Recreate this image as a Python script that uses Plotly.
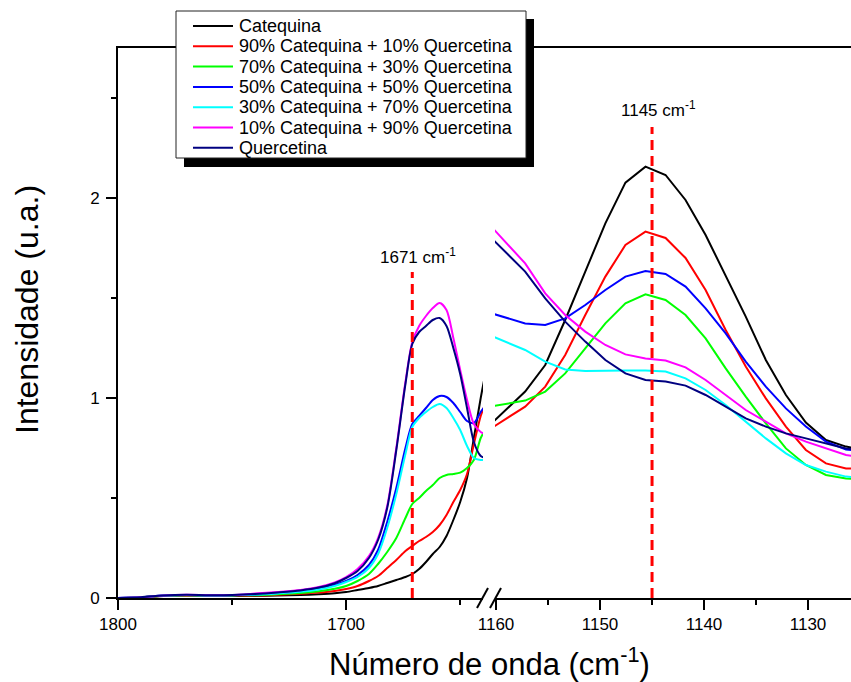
import plotly.graph_objects as go

# ---------------- data ----------------
series_names = [
    "Catequina",
    "90% Catequina + 10% Quercetina",
    "70% Catequina + 30% Quercetina",
    "50% Catequina + 50% Quercetina",
    "30% Catequina + 70% Quercetina",
    "10% Catequina + 90% Quercetina",
    "Quercetina",
]
series_colors = ["#000000", "#FF0000", "#00FF00", "#0000FF", "#00FFFF", "#FF00FF", "#000080"]

# left panel (1800 - 1640 cm-1)
wn_left = [1800, 1790, 1780, 1770, 1760, 1750, 1740, 1730, 1720, 1712, 1705, 1700, 1695, 1690,
           1686, 1682, 1678, 1674, 1671, 1668, 1665, 1662, 1659, 1656, 1653, 1650, 1647, 1644,
           1641, 1639]
left_cat = [0, 0.003, 0.010, 0.012, 0.010, 0.010, 0.010, 0.012, 0.015, 0.019, 0.024, 0.030, 0.040, 0.050,
            0.060, 0.075, 0.090, 0.105, 0.120, 0.145, 0.180, 0.220, 0.255, 0.310, 0.390, 0.480, 0.600, 0.800,
            1.000, 1.120]
left_90 = [0, 0.003, 0.011, 0.013, 0.011, 0.012, 0.012, 0.016, 0.021, 0.027, 0.035, 0.045, 0.060, 0.085,
           0.110, 0.150, 0.190, 0.235, 0.260, 0.285, 0.305, 0.330, 0.365, 0.415, 0.480, 0.540, 0.620, 0.770,
           0.910, 0.970]
left_70 = [0, 0.003, 0.011, 0.014, 0.012, 0.013, 0.014, 0.019, 0.025, 0.034, 0.046, 0.060, 0.085, 0.120,
           0.170, 0.230, 0.300, 0.400, 0.470, 0.500, 0.535, 0.565, 0.600, 0.615, 0.620, 0.627, 0.650, 0.690,
           0.800, 0.840]
left_50 = [0, 0.004, 0.012, 0.015, 0.013, 0.014, 0.018, 0.025, 0.034, 0.047, 0.066, 0.085, 0.115, 0.165,
           0.240, 0.380, 0.550, 0.750, 0.870, 0.910, 0.950, 0.990, 1.010, 1.005, 0.975, 0.930, 0.885, 0.875,
           0.930, 0.960]
left_30 = [0, 0.004, 0.012, 0.015, 0.013, 0.014, 0.017, 0.023, 0.031, 0.043, 0.060, 0.080, 0.105, 0.150,
           0.220, 0.350, 0.520, 0.720, 0.855, 0.900, 0.930, 0.955, 0.970, 0.950, 0.900, 0.840, 0.760, 0.700,
           0.690, 0.690]
left_10 = [0, 0.004, 0.012, 0.016, 0.014, 0.015, 0.022, 0.030, 0.040, 0.055, 0.078, 0.105, 0.145, 0.210,
           0.300, 0.460, 0.750, 1.080, 1.280, 1.360, 1.410, 1.450, 1.475, 1.440, 1.300, 1.140, 0.990, 0.870,
           0.830, 0.820]
left_que = [0, 0.004, 0.013, 0.016, 0.014, 0.015, 0.020, 0.028, 0.038, 0.052, 0.074, 0.100, 0.135, 0.200,
            0.290, 0.450, 0.740, 1.070, 1.270, 1.330, 1.360, 1.390, 1.400, 1.360, 1.250, 1.120, 0.950, 0.780,
            0.710, 0.700]

# right panel (1160 - 1126 cm-1)
wn_right = [1161.06, 1159.13, 1157.20, 1155.27, 1153.35, 1151.42, 1149.49, 1147.56, 1145.63, 1143.70,
            1141.78, 1139.85, 1137.92, 1135.99, 1134.06, 1132.13, 1130.21, 1128.28, 1126.35, 1124.42]
right_cat = [0.842, 0.937, 1.032, 1.165, 1.390, 1.632, 1.873, 2.077, 2.157, 2.115,
             1.990, 1.815, 1.615, 1.407, 1.190, 1.015, 0.877, 0.790, 0.757, 0.740]
right_90 = [0.829, 0.893, 0.957, 1.057, 1.215, 1.415, 1.607, 1.765, 1.832, 1.800,
            1.700, 1.540, 1.340, 1.157, 0.998, 0.857, 0.740, 0.673, 0.648, 0.645]
right_70 = [0.953, 0.970, 0.987, 1.032, 1.123, 1.248, 1.373, 1.473, 1.518, 1.490,
            1.415, 1.298, 1.148, 1.007, 0.873, 0.748, 0.665, 0.615, 0.598, 0.590]
right_50 = [1.433, 1.403, 1.373, 1.365, 1.398, 1.465, 1.540, 1.607, 1.635, 1.620,
            1.557, 1.448, 1.323, 1.182, 1.057, 0.948, 0.857, 0.782, 0.743, 0.730]
right_30 = [1.324, 1.282, 1.240, 1.182, 1.143, 1.135, 1.137, 1.137, 1.137, 1.132,
            1.098, 1.040, 0.965, 0.882, 0.798, 0.723, 0.665, 0.632, 0.607, 0.600]
right_10 = [1.891, 1.782, 1.673, 1.523, 1.415, 1.332, 1.265, 1.218, 1.198, 1.187,
            1.153, 1.090, 1.015, 0.940, 0.882, 0.823, 0.782, 0.748, 0.715, 0.700]
right_que = [1.832, 1.732, 1.632, 1.498, 1.382, 1.282, 1.190, 1.123, 1.090, 1.082,
             1.062, 1.015, 0.957, 0.898, 0.857, 0.823, 0.798, 0.773, 0.748, 0.735]

left_values = [left_cat, left_90, left_70, left_50, left_30, left_10, left_que]
right_values = [right_cat, right_90, right_70, right_50, right_30, right_10, right_que]

peak_wn = [1671, 1145]
peak_line_top = [1.63, 2.355]
peak_labels = ["1671 cm<sup>-1</sup>", "1145 cm<sup>-1</sup>"]
peak_label_y = [1.71, 2.445]

x_ticks_left = [1800, 1700]
x_ticks_right = [1160, 1150, 1140, 1130]
y_ticks = [0, 1, 2]

# ---------------- layout helpers (pixels -> paper) ----------------
W, H = 851, 682
L, T, B, R = 118, 48, 84, 0
PW = W - L - R
PH = H - T - B


def px(xp):
    return (xp - L) / PW


def py(yp):
    return (H - B - yp) / PH


FONT = "Liberation Sans, Arial, sans-serif"

fig = go.Figure()

for name, color, lv, rv in zip(series_names, series_colors, left_values, right_values):
    fig.add_trace(go.Scatter(x=wn_left, y=lv, mode="lines", name=name,
                             line=dict(color=color, width=2, shape="spline", smoothing=0.8),
                             xaxis="x", yaxis="y", showlegend=False))
    fig.add_trace(go.Scatter(x=wn_right, y=rv, mode="lines", name=name,
                             line=dict(color=color, width=2),
                             xaxis="x2", yaxis="y", showlegend=False))

axis_common = dict(showgrid=False, zeroline=False, showline=True, linecolor="black", linewidth=2,
                   ticks="outside", ticklen=10, tickwidth=2, tickcolor="black",
                   tickfont=dict(family=FONT, size=17, color="black"))

fig.update_layout(
    width=W, height=H,
    margin=dict(l=L, r=R, t=T, b=B),
    paper_bgcolor="white", plot_bgcolor="white",
    showlegend=False,
    xaxis=dict(domain=[0, px(483)], range=[1800, 1640], tickvals=x_ticks_left,
               mirror=True, anchor="y",
               minor=dict(ticks="outside", ticklen=5, tickwidth=2, tickcolor="black",
                          dtick=50, tick0=1800, showgrid=False),
               **axis_common),
    xaxis2=dict(domain=[px(495), 1], range=[1160.1, 1125.87], tickvals=x_ticks_right,
                mirror=True, anchor="y",
                minor=dict(ticks="outside", ticklen=5, tickwidth=2, tickcolor="black",
                           dtick=5, tick0=1160, showgrid=False),
                **axis_common),
    yaxis=dict(domain=[0, 1], range=[0, 2.75], tickvals=y_ticks, ticklabelstandoff=3,
               minor=dict(ticks="outside", ticklen=5, tickwidth=2, tickcolor="black",
                          dtick=0.5, tick0=0, showgrid=False),
               **axis_common),
)

shapes = []
annotations = []

# peak marker lines and labels
for wn, top, lab, ly, xr in zip(peak_wn, peak_line_top, peak_labels, peak_label_y, ["x", "x2"]):
    shapes.append(dict(type="line", xref=xr, yref="y", x0=wn, x1=wn, y0=0, y1=top,
                       line=dict(color="#FF0000", width=3, dash="10px,6px")))
    annotations.append(dict(xref=xr, yref="y", x=wn, y=ly, text=lab, showarrow=False,
                            xshift=6, font=dict(family=FONT, size=17, color="black")))

# axis break marks
for x0, x1 in [(477, 488), (490, 501)]:
    shapes.append(dict(type="line", xref="paper", yref="paper", x0=px(x0), x1=px(x1),
                       y0=py(608), y1=py(588), line=dict(color="black", width=2)))

# legend box with shadow
shapes.append(dict(type="rect", xref="paper", yref="paper", x0=px(184), x1=px(534),
                   y0=py(167), y1=py(19), fillcolor="black", line=dict(width=0), layer="above"))
shapes.append(dict(type="rect", xref="paper", yref="paper", x0=px(176), x1=px(526),
                   y0=py(158), y1=py(11), fillcolor="white",
                   line=dict(color="#222222", width=1), layer="above"))
row_y = [26, 46.3, 66.6, 86.9, 107.2, 127.5, 147.8]
for name, color, ry in zip(series_names, series_colors, row_y):
    shapes.append(dict(type="line", xref="paper", yref="paper", x0=px(193), x1=px(233),
                       y0=py(ry), y1=py(ry), line=dict(color=color, width=2), layer="above"))
    annotations.append(dict(xref="paper", yref="paper", x=px(237), y=py(ry), text=name,
                            showarrow=False, xanchor="left", yanchor="middle",
                            font=dict(family=FONT, size=18, color="black")))

# axis titles
annotations.append(dict(xref="paper", yref="paper", x=px(489), y=py(662),
                        text="Número de onda (cm<sup>-1</sup>)", showarrow=False,
                        xanchor="center", yanchor="middle",
                        font=dict(family=FONT, size=31, color="black")))
annotations.append(dict(xref="paper", yref="paper", x=px(27), y=py(310),
                        text="Intensidade (u.a.)", showarrow=False, textangle=-90,
                        xanchor="center", yanchor="middle",
                        font=dict(family=FONT, size=32, color="black")))

fig.update_layout(shapes=shapes, annotations=annotations)

fig.write_html(
    "out.html",
    config={"displayModeBar": False},
    post_script="document.body.style.margin='0px';document.body.style.overflow='hidden';",
)
